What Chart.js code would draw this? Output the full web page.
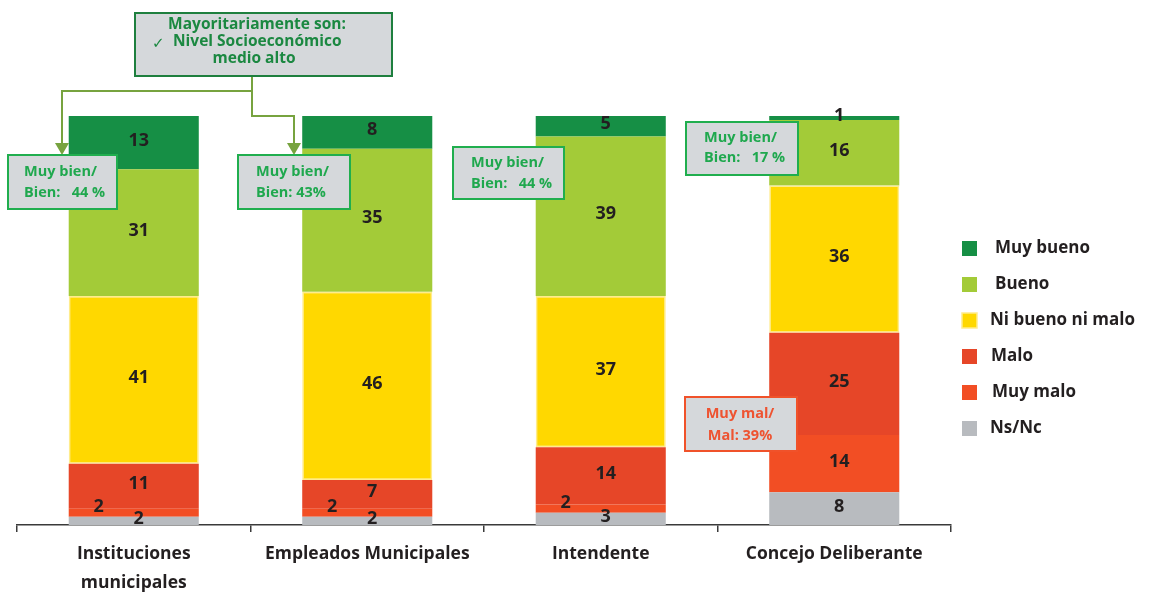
<!DOCTYPE html>
<html>
<head>
<meta charset="utf-8">
<script src="https://cdn.jsdelivr.net/npm/chart.js@4.4.0/dist/chart.umd.min.js"></script>
<style>
  html, body { margin: 0; padding: 0; background: #fff; }
  #wrap { width: 1149px; height: 594px; position: relative; }
</style>
</head>
<body>
<div id="wrap"><canvas id="chart" width="1149" height="594"></canvas></div>
<script>
// categories and series (bottom of the stack first)
const categories = [['Instituciones', 'municipales'], 'Empleados Municipales', 'Intendente', 'Concejo Deliberante'];
const nsNc = [2, 2, 3, 8];
const muyMalo = [2, 2, 2, 14];
const malo = [11, 7, 14, 25];
const niBuenoNiMalo = [41, 46, 37, 36];
const bueno = [31, 35, 39, 16];
const muyBueno = [13, 8, 5, 1];
const seriesNames = ['Ns/Nc', 'Muy malo', 'Malo', 'Ni bueno ni malo', 'Bueno', 'Muy bueno'];

// callout texts
const topNote = ['Mayoritariamente son:', 'Nivel Socioeconómico', 'medio alto'];
const positiveNotes = [['Muy bien/', 'Bien:   44 %'], ['Muy bien/', 'Bien: 43%'], ['Muy bien/', 'Bien:   44 %'], ['Muy bien/', 'Bien:   17 %']];
const negativeNote = ['Muy mal/', 'Mal: 39%'];

const colors = ['#B8BBBF', '#F24E24', '#E64628', '#FFD800', '#A3CB38', '#168F45'];
const FONT = '"Open Sans", Lato, sans-serif';

const datasets = [nsNc, muyMalo, malo, niBuenoNiMalo, bueno, muyBueno].map((d, i) => ({
    label: seriesNames[i],
    data: d,
    backgroundColor: colors[i],
    borderColor: i === 3 ? '#FFEC8C' : colors[i],
    borderWidth: i === 3 ? 1.5 : 0,
    borderSkipped: false,
    barPercentage: 0.557,
    categoryPercentage: 1.0,
}));

// numbers inside the bars
const valueLabels = {
    id: 'valueLabels',
    afterDatasetsDraw(chart) {
        const ctx = chart.ctx;
        ctx.save();
        ctx.font = 'bold 18px ' + FONT;
        ctx.fillStyle = '#231F20';
        ctx.textAlign = 'center';
        ctx.textBaseline = 'middle';
        chart.data.datasets.forEach((ds, di) => {
            const meta = chart.getDatasetMeta(di);
            meta.data.forEach((bar, i) => {
                const v = ds.data[i];
                const p = bar.getProps(['x', 'y', 'base'], true);
                let x = p.x + 5;
                let y = (p.y + p.base) / 2 - 2;
                // small "Muy malo" values sit to the left
                if (di === 1 && v < 5) { x = p.x - 35; y -= 4; }
                ctx.fillText(String(v), x, y);
            });
        });
        ctx.restore();
    }
};

function box(ctx, x, y, w, h, border) {
    ctx.fillStyle = '#D5D8DB';
    ctx.fillRect(x, y, w, h);
    ctx.strokeStyle = border;
    ctx.lineWidth = 2;
    ctx.strokeRect(x, y, w, h);
}

function arrowDown(ctx, x, tipY) {
    ctx.beginPath();
    ctx.moveTo(x - 7, tipY - 12);
    ctx.lineTo(x + 7, tipY - 12);
    ctx.lineTo(x, tipY);
    ctx.closePath();
    ctx.fill();
}

// callouts and legend
const overlays = {
    id: 'overlays',
    afterDraw(chart) {
        const ctx = chart.ctx;
        ctx.save();

        // connector from the top note
        ctx.strokeStyle = '#77A33F';
        ctx.fillStyle = '#77A33F';
        ctx.lineWidth = 2;
        ctx.beginPath();
        ctx.moveTo(252, 77); ctx.lineTo(252, 91); ctx.lineTo(62, 91); ctx.lineTo(62, 143);
        ctx.moveTo(252, 91); ctx.lineTo(252, 116); ctx.lineTo(294, 116); ctx.lineTo(294, 143);
        ctx.stroke();
        arrowDown(ctx, 62, 155);
        arrowDown(ctx, 294, 155);

        // top note
        box(ctx, 135, 13, 257, 63, '#1E7F3E');
        ctx.fillStyle = '#1B8841';
        ctx.font = 'bold 15.5px ' + FONT;
        ctx.textBaseline = 'middle';
        ctx.textAlign = 'center';
        ctx.fillText(topNote[0], 257, 25);
        ctx.fillText(topNote[2], 254, 59);
        ctx.textAlign = 'left';
        ctx.fillText(topNote[1], 173, 42);
        ctx.font = '15px "DejaVu Sans", sans-serif';
        ctx.fillText('\u2713', 152, 44);

        // positive notes
        const posBoxes = [[8, 155, 109, 54, 24, 172, 193], [238, 155, 112, 54, 256, 172, 193],
                          [453, 147, 111, 52, 471, 163, 184], [686, 122, 112, 53, 704, 138, 158]];
        posBoxes.forEach((b, i) => {
            box(ctx, b[0], b[1], b[2], b[3], '#20AE4E');
            ctx.fillStyle = '#1FA84E';
            ctx.font = 'bold 14.5px ' + FONT;
            ctx.textAlign = 'left';
            ctx.fillText(positiveNotes[i][0], b[4], b[5]);
            ctx.fillText(positiveNotes[i][1], b[4], b[6]);
        });

        // negative note
        box(ctx, 685, 397, 112, 54, '#F0522A');
        ctx.fillStyle = '#EE5331';
        ctx.textAlign = 'center';
        ctx.fillText(negativeNote[0], 740, 414);
        ctx.fillText(negativeNote[1], 740, 436);

        // legend, top to bottom
        const names = chart.data.datasets.map(d => d.label).reverse();
        const fills = chart.data.datasets.map(d => d.backgroundColor).reverse();
        const textX = [995, 995, 990, 991, 992, 990];
        ctx.font = 'bold 17px ' + FONT;
        ctx.textAlign = 'left';
        names.forEach((n, i) => {
            const cy = 248 + i * 36;
            ctx.fillStyle = fills[i];
            ctx.fillRect(962, cy - 7, 15, 15);
            if (n === 'Ni bueno ni malo') {
                ctx.strokeStyle = '#FFEC8C';
                ctx.lineWidth = 1.5;
                ctx.strokeRect(962, cy - 7, 15, 15);
            }
            ctx.fillStyle = '#231F20';
            ctx.fillText(n, textX[i], cy);
        });
        ctx.restore();
    }
};

new Chart(document.getElementById('chart').getContext('2d'), {
    type: 'bar',
    data: { labels: categories, datasets: datasets },
    options: {
        responsive: false,
        animation: false,
        layout: { padding: { left: 17, right: 198, top: 116, bottom: 0 } },
        plugins: {
            legend: { display: false },
            tooltip: { enabled: false },
        },
        scales: {
            x: {
                stacked: true,
                afterFit(scale) { scale.height = 69; },
                border: { display: true, color: '#3A3A3A', width: 1.5 },
                grid: { offset: true, drawOnChartArea: false, drawTicks: true, tickLength: 7, color: '#3A3A3A', lineWidth: 1.5 },
                ticks: {
                    color: '#231F20',
                    padding: 8,
                    maxRotation: 0,
                    autoSkip: false,
                    font: { family: FONT, size: 17.5, weight: 'bold', lineHeight: 1.65 },
                },
            },
            y: {
                stacked: true,
                display: false,
                min: 0,
                max: 100,
            },
        },
    },
    plugins: [valueLabels, overlays],
});
</script>
</body>
</html>
